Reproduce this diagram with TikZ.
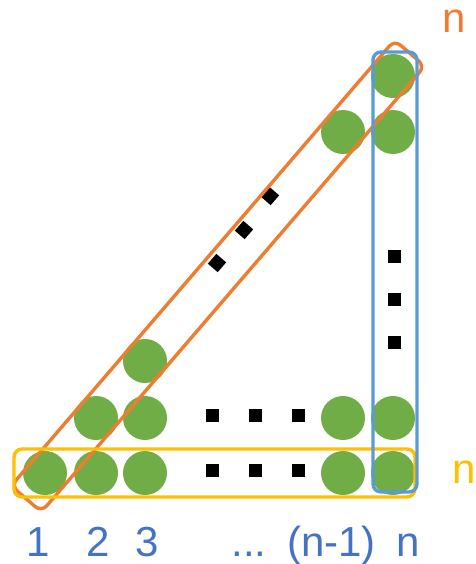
\documentclass[tikz,border=0pt]{standalone}
\usepackage{fontspec}
\setmainfont{Liberation Sans}
\definecolor{dotgreen}{HTML}{70AD47}
\definecolor{oorange}{HTML}{ED7D31}
\definecolor{yyellow}{HTML}{FFC000}
\definecolor{bblue}{HTML}{5B9BD5}
\definecolor{tblue}{HTML}{4472C4}
\tikzset{
  ball/.style={circle, fill=dotgreen, inner sep=0pt, minimum size=44pt},
  sq/.style={rectangle, fill=black, inner sep=0pt, minimum size=13pt},
  frame/.style={draw, line width=3.4pt, rounded corners=8pt, inner sep=0pt},
  lab/.style={anchor=base, font=\fontsize{42}{42}\selectfont, inner sep=0pt},
}
\begin{document}
\begin{tikzpicture}[x=1pt,y=-1pt]
\useasboundingbox (0,0) rectangle (475,564);
% balls
\node[ball] (b11) at (45,473) {};
\node[ball] (b12) at (96,473) {};
\node[ball] (b13) at (145,473) {};
\node[ball] (b1m) at (343,473) {};
\node[ball] (b1n) at (393,473) {};
\node[ball] (b22) at (96,418) {};
\node[ball] (b23) at (145,418) {};
\node[ball] (b2m) at (343,418) {};
\node[ball] (b2n) at (393,418) {};
\node[ball] (b33) at (145,361) {};
\node[ball] (bmm) at (343,132) {};
\node[ball] (bmn) at (393,132) {};
\node[ball] (bnn) at (393,76) {};
% dots
\node[sq] (s11) at (212,470) {};
\node[sq] (s12) at (255,470) {};
\node[sq] (s13) at (298,470) {};
\node[sq] (s21) at (212,415) {};
\node[sq] (s22) at (255,415) {};
\node[sq] (s23) at (298,415) {};
\node[sq] (v1) at (394,256) {};
\node[sq] (v2) at (394,299) {};
\node[sq] (v3) at (394,342) {};
\node[sq, rotate=49] (d1) at (217,263) {};
\node[sq, rotate=49] (d2) at (244,230) {};
\node[sq, rotate=49] (d3) at (270,196) {};
% frames
\node[frame, draw=oorange, rotate=49.3, minimum width=588pt, minimum height=40pt] (diag) at (218,276) {};
\node[frame, draw=yyellow, minimum width=401pt, minimum height=48pt] (row) at (214.5,473) {};
\node[frame, draw=bblue, minimum width=44pt, minimum height=440pt] (col) at (395,272) {};
% labels
\node[lab, text=oorange] (ln1) at (454,33) {n};
\node[lab, text=yyellow] (ln2) at (464.5,483) {n};
\node[lab, text=tblue] (l1) at (38.5,556) {1};
\node[lab, text=tblue] (l2) at (98,556) {2};
\node[lab, text=tblue] (l3) at (147,556) {3};
\node[lab, text=tblue] (ld) at (249,556) {...};
\node[lab, text=tblue] (lm) at (331.5,556) {(n-1)};
\node[lab, text=tblue] (ln) at (408.5,556) {n};
\end{tikzpicture}
\end{document}
